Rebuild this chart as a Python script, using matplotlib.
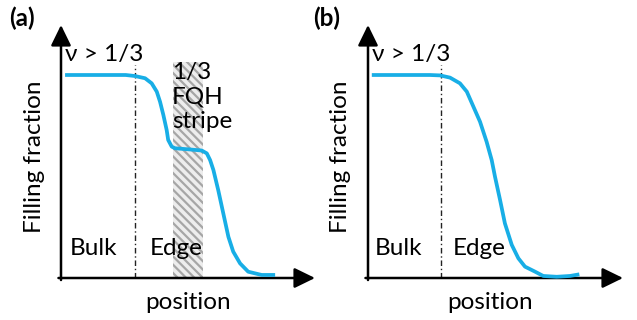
import matplotlib
matplotlib.use("Agg")
import matplotlib.pyplot as plt
from matplotlib.patches import Rectangle

plt.rcParams['font.family'] = ['Lato', 'DejaVu Sans']
plt.rcParams['hatch.linewidth'] = 1.6

# ---- data (position in arbitrary units, filling fraction normalised to bulk) ----
pos_a = [0.16, 2.55, 2.91, 3.31, 3.57, 3.77, 3.90, 4.03, 4.16, 4.22, 4.36, 4.49,
         5.00, 5.54, 5.74, 5.87, 6.00, 6.19, 6.39, 6.59, 6.78, 7.05, 7.37, 7.90, 8.43]
fill_a = [1.00, 1.00, 0.995, 0.984, 0.959, 0.918, 0.868, 0.803, 0.729, 0.680, 0.647, 0.639,
          0.634, 0.628, 0.614, 0.581, 0.532, 0.433, 0.318, 0.203, 0.130, 0.072, 0.031, 0.015, 0.015]

pos_b = [0.15, 2.44, 2.84, 3.23, 3.62, 3.89, 4.15, 4.41, 4.67, 4.87, 5.00, 5.20,
         5.39, 5.66, 5.92, 6.18, 6.58, 6.90, 7.43, 7.95, 8.32]
fill_b = [1.00, 1.00, 0.998, 0.987, 0.959, 0.918, 0.844, 0.770, 0.671, 0.581, 0.499, 0.384,
          0.269, 0.163, 0.097, 0.056, 0.031, 0.010, 0.006, 0.010, 0.018]

bulk_edge_boundary = [2.91, 2.87]
stripe_span = (4.41, 5.59)

panel_labels = ['(a)', '(b)']
top_label = 'ν > 1/3'
stripe_label = '1/3\nFQH\nstripe'
xlabel = 'position'
ylabel = 'Filling fraction'

W, H = 637, 320
fig = plt.figure(figsize=(W / 100, H / 100), dpi=100)

BLUE = '#18aee6'
YTOP = 253 / 203


def px(x, y):
    return x / W, 1 - y / H


def make_axes(left_px, width_px):
    ax = fig.add_axes([left_px / W, (H - 278) / H, width_px / W, 253 / H])
    ax.set_xlim(0, width_px / 25.4)
    ax.set_ylim(0, YTOP)
    ax.axis('off')
    xmax = width_px / 25.4
    arrow = dict(arrowstyle='-|>,head_length=0.45,head_width=0.22', lw=1.8, color='black',
                 mutation_scale=28, shrinkA=0, shrinkB=0)
    ax.annotate('', xy=(xmax, 0), xytext=(-0.1, 0), arrowprops=arrow, annotation_clip=False)
    ax.annotate('', xy=(0, YTOP), xytext=(0, -0.01), arrowprops=arrow, annotation_clip=False)
    return ax


ax_a = make_axes(61, 254)
ax_b = make_axes(368, 255)

# hatched 1/3 stripe
ax_a.add_patch(Rectangle((stripe_span[0], 0), stripe_span[1] - stripe_span[0], 1.064,
                         facecolor='#ededed', edgecolor='#a6a6a6', lw=0,
                         hatch='\\\\\\\\', zorder=1))

for ax, xb in zip([ax_a, ax_b], bulk_edge_boundary):
    ax.plot([xb, xb], [0, 1.05], color='#222222', lw=1.0, dashes=(4, 2, 1, 2), zorder=2)

for ax, xs, ys in [(ax_a, pos_a, fill_a), (ax_b, pos_b, fill_b)]:
    ax.plot(xs, ys, color=BLUE, lw=2.7, solid_capstyle='butt', solid_joinstyle='round',
            zorder=3, clip_on=False)

FS = 17.5
for off, lab in zip([0, 304], panel_labels):
    fig.text(*px(9 + off, 18), lab, fontsize=FS, fontweight='bold', va='center', ha='left')

for x0, ynu, xb, xe, xp, xy in [(65, 55, 70, 150, 188, 35), (372, 55, 375, 453, 490, 340)]:
    fig.text(*px(x0, ynu), top_label, fontsize=FS, va='center', ha='left')
    fig.text(*px(xb, 255), 'Bulk', fontsize=FS, va='baseline', ha='left')
    fig.text(*px(xe, 255), 'Edge', fontsize=FS, va='baseline', ha='left')
    fig.text(*px(xp, 309), xlabel, fontsize=FS, va='baseline', ha='center')
    fig.text(*px(xy, 157), ylabel, fontsize=FS, va='center', ha='center', rotation=90)

fig.text(*px(172, 97), stripe_label, fontsize=FS, va='center', ha='left', linespacing=1.2,
         zorder=5)

fig.savefig('out.png', dpi=100)
